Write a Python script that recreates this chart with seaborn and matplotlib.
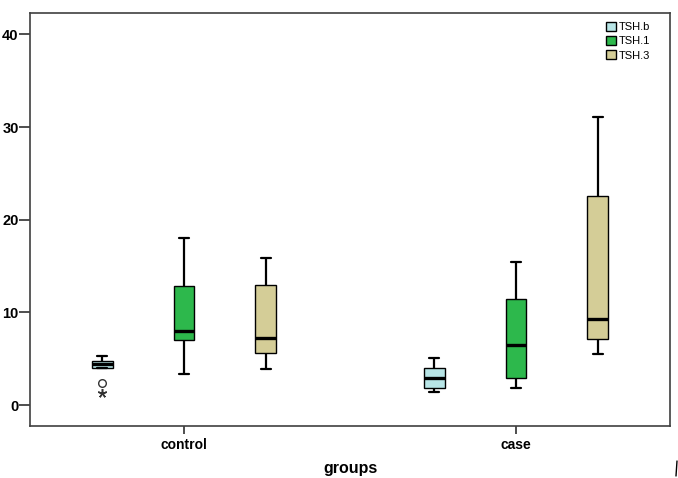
import pandas as pd
import seaborn as sns
import matplotlib.pyplot as plt
from matplotlib.lines import Line2D

# groups / series
groups = ['control', 'case']
series = ['TSH.b', 'TSH.1', 'TSH.3']
colors = ['#b8e5e6', '#2db84c', '#d4cd97']

# values (outliers + quartiles + whisker ends)
control_tsh_b = [1.25, 2.4, 3.95, 3.95, 4.4, 4.75, 4.75, 5.3, 5.3]
control_tsh_1 = [3.35, 7.05, 8.0, 12.85, 18.0]
control_tsh_3 = [3.9, 5.6, 7.2, 12.95, 15.9]
case_tsh_b = [1.45, 1.85, 2.95, 4.0, 5.05]
case_tsh_1 = [1.85, 2.95, 6.45, 11.4, 15.4]
case_tsh_3 = [5.5, 7.1, 9.25, 22.55, 31.05]

values = {
    ('control', 'TSH.b'): control_tsh_b,
    ('control', 'TSH.1'): control_tsh_1,
    ('control', 'TSH.3'): control_tsh_3,
    ('case', 'TSH.b'): case_tsh_b,
    ('case', 'TSH.1'): case_tsh_1,
    ('case', 'TSH.3'): case_tsh_3,
}
rows = [(g, s, v) for (g, s), vals in values.items() for v in vals]
df = pd.DataFrame(rows, columns=['groups', 'series', 'value'])

sns.set_theme(style='white')
plt.rcParams['font.family'] = ['Liberation Sans', 'DejaVu Sans']
plt.rcParams['text.color'] = 'black'
plt.rcParams['axes.labelcolor'] = 'black'
plt.rcParams['xtick.labelcolor'] = 'black'
plt.rcParams['ytick.labelcolor'] = 'black'

fig = plt.figure(figsize=(6.78, 4.78), dpi=100)
ax = fig.add_axes([30 / 678, 1 - 426 / 478, 640 / 678, 413 / 478])

sns.boxplot(data=df, x='groups', y='value', hue='series',
            order=groups, hue_order=series, palette=colors, saturation=1,
            width=0.74, gap=0.745, linecolor='black', linewidth=1.0,
            whiskerprops=dict(linewidth=1.6), capprops=dict(linewidth=1.6),
            medianprops=dict(linewidth=2.4),
            flierprops=dict(marker='o', markerfacecolor='none',
                            markeredgecolor='#333333', markersize=5.5,
                            markeredgewidth=1.0),
            ax=ax)

# SPSS style: extreme values (beyond 3*IQR) drawn as asterisks
q = df[(df.groups == 'control') & (df.series == 'TSH.b')]['value'].quantile([.25, .75])
extreme_lo = q[.25] - 3 * (q[.75] - q[.25])
for line in list(ax.lines):
    if line.get_marker() == 'o' and len(line.get_ydata()) > 0:
        xs, ys = line.get_xdata(), line.get_ydata()
        keep = [(x, y) for x, y in zip(xs, ys) if y >= extreme_lo]
        ext = [(x, y) for x, y in zip(xs, ys) if y < extreme_lo]
        line.set_data([p[0] for p in keep], [p[1] for p in keep])
        if ext:
            ax.plot([p[0] for p in ext], [p[1] for p in ext], linestyle='none',
                    marker=(5, 2, 0), markersize=6.5, color='#333333',
                    markeredgewidth=1.1)

ax.set_xlim(-0.464, 1.464)
ax.set_ylim(-2.26, 42.3)
ax.set_yticks([0, 10, 20, 30, 40])

for side in ['left', 'right', 'top', 'bottom']:
    ax.spines[side].set_color('#404040')
    ax.spines[side].set_linewidth(1.2)

ax.tick_params(axis='y', left=True, length=7.7, width=1.3, color='#404040',
               pad=0.5, labelsize=10.5)
ax.tick_params(axis='x', bottom=True, length=5.5, width=1.3, color='#404040',
               pad=3, labelsize=10)
for lab in ax.get_xticklabels() + ax.get_yticklabels():
    lab.set_fontweight('bold')

ax.set_xlabel('groups', fontsize=11.5, fontweight='bold', labelpad=6.5)
ax.set_ylabel('')

handles, labels = ax.get_legend_handles_labels()
ax.legend(handles, labels, loc='upper left', bbox_to_anchor=(600 / 678, 1 - 16 / 478),
          bbox_transform=fig.transFigure, frameon=False, fontsize=8,
          handlelength=0.9, handleheight=0.9, handletextpad=0.3,
          labelspacing=0.35, borderpad=0)

# stray mark at bottom right of the original image
fig.add_artist(Line2D([676 / 678, 677 / 678], [2 / 478, 17 / 478],
                      color='black', linewidth=1))

fig.savefig('out.png', dpi=100)
